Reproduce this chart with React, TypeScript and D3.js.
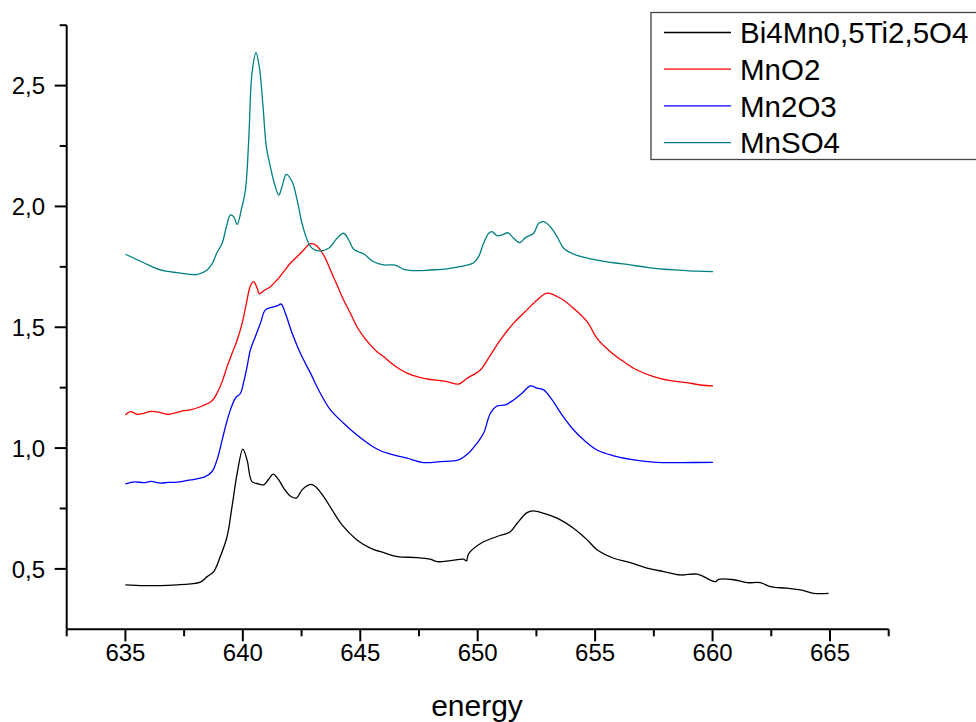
import React from "react";
import * as d3 from "d3";

const seriesNames = ["Bi4Mn0,5Ti2,5O4", "MnO2", "Mn2O3", "MnSO4"];
const seriesColors = ["#000000", "#ff0000", "#0000ff", "#008080"];

const xTicks = [635, 640, 645, 650, 655, 660, 665];
const xMinorTicks = [632.5, 637.5, 642.5, 647.5, 652.5, 657.5, 662.5, 667.5];
const yTicks = [0.5, 1.0, 1.5, 2.0, 2.5];
const yMinorTicks = [0.75, 1.25, 1.75, 2.25, 2.75];
const yTickLabels = ["0,5", "1,0", "1,5", "2,0", "2,5"];

const bi4Energy = [635, 635.78, 636.49, 637.2, 637.77, 638.19, 638.48, 638.76, 639.04, 639.33, 639.54, 639.76, 640.0, 640.18, 640.39, 640.67, 640.89, 641.1, 641.29, 641.53, 641.74, 642.02, 642.28, 642.52, 642.88, 643.09, 643.44, 643.8, 644.22, 644.86, 645.43, 646.0, 646.57, 647.42, 647.98, 648.27, 648.84, 649.4, 649.52, 649.61, 650.19, 650.82, 651.39, 651.68, 652.1, 652.38, 652.81, 653.38, 654.08, 654.66, 655.08, 655.79, 656.5, 657.21, 657.92, 658.63, 659.34, 660.12, 660.26, 660.9, 661.47, 662.03, 662.46, 663.17, 663.74, 664.3, 664.94];
const bi4Value = [0.434, 0.431, 0.431, 0.434, 0.438, 0.445, 0.468, 0.489, 0.551, 0.634, 0.758, 0.896, 0.996, 0.951, 0.861, 0.852, 0.848, 0.871, 0.892, 0.868, 0.834, 0.802, 0.793, 0.827, 0.85, 0.841, 0.799, 0.744, 0.682, 0.62, 0.586, 0.567, 0.551, 0.547, 0.54, 0.53, 0.534, 0.54, 0.533, 0.562, 0.609, 0.634, 0.654, 0.689, 0.733, 0.74, 0.73, 0.71, 0.668, 0.62, 0.579, 0.544, 0.526, 0.503, 0.489, 0.475, 0.478, 0.447, 0.457, 0.455, 0.443, 0.443, 0.427, 0.42, 0.413, 0.399, 0.399];

const mno2Energy = [635, 635.21, 635.5, 635.78, 636.1, 636.49, 636.8, 637.2, 637.5, 637.77, 638.19, 638.69, 638.9, 639.12, 639.33, 639.54, 639.76, 639.97, 640.15, 640.32, 640.46, 640.61, 640.7, 640.89, 641.17, 641.46, 641.74, 642.02, 642.31, 642.59, 642.85, 643.09, 643.3, 643.51, 643.73, 644.01, 644.29, 644.58, 644.86, 645.14, 645.43, 645.71, 646.0, 646.42, 646.99, 647.56, 648.12, 648.69, 649.19, 649.55, 650.11, 650.54, 650.96, 651.53, 652.1, 652.53, 652.95, 653.52, 654.08, 654.66, 655.08, 655.65, 656.21, 656.78, 657.49, 658.2, 658.91, 659.48, 660.02];
const mno2Value = [1.137, 1.151, 1.14, 1.144, 1.152, 1.147, 1.14, 1.148, 1.155, 1.158, 1.171, 1.196, 1.227, 1.275, 1.337, 1.392, 1.447, 1.517, 1.599, 1.671, 1.689, 1.661, 1.638, 1.651, 1.668, 1.696, 1.73, 1.765, 1.792, 1.82, 1.845, 1.841, 1.82, 1.786, 1.737, 1.675, 1.613, 1.558, 1.502, 1.461, 1.427, 1.399, 1.378, 1.344, 1.31, 1.292, 1.282, 1.275, 1.265, 1.289, 1.323, 1.385, 1.447, 1.517, 1.572, 1.613, 1.641, 1.62, 1.579, 1.523, 1.454, 1.399, 1.358, 1.323, 1.296, 1.279, 1.271, 1.261, 1.257];

const mn2o3Energy = [635, 635.4, 635.78, 636.1, 636.49, 636.8, 637.2, 637.77, 638.4, 638.69, 638.9, 639.12, 639.3, 639.47, 639.68, 639.9, 640.04, 640.18, 640.32, 640.53, 640.75, 640.96, 641.25, 641.46, 641.63, 641.81, 642.1, 642.45, 642.88, 643.3, 643.73, 644.29, 644.86, 645.43, 645.86, 646.42, 646.99, 647.7, 648.41, 649.19, 649.61, 649.97, 650.25, 650.54, 650.82, 651.18, 651.53, 651.89, 652.24, 652.53, 652.81, 653.17, 653.59, 654.02, 654.51, 655.08, 655.79, 656.64, 657.63, 658.63, 660.02];
const mn2o3Value = [0.852, 0.86, 0.857, 0.862, 0.855, 0.858, 0.859, 0.868, 0.882, 0.903, 0.951, 1.034, 1.103, 1.158, 1.206, 1.227, 1.275, 1.337, 1.406, 1.461, 1.517, 1.572, 1.583, 1.588, 1.596, 1.558, 1.475, 1.392, 1.31, 1.227, 1.158, 1.103, 1.054, 1.013, 0.989, 0.972, 0.958, 0.94, 0.944, 0.951, 0.979, 1.02, 1.061, 1.144, 1.174, 1.179, 1.199, 1.227, 1.257, 1.248, 1.241, 1.199, 1.137, 1.082, 1.034, 0.992, 0.968, 0.951, 0.941, 0.94, 0.941];

const mnso4Energy = [635, 635.78, 636.49, 637.2, 638.08, 638.48, 638.69, 638.9, 639.12, 639.3, 639.47, 639.61, 639.76, 639.93, 640.11, 640.25, 640.39, 640.56, 640.7, 640.86, 641.0, 641.17, 641.34, 641.53, 641.67, 641.85, 642.1, 642.31, 642.52, 642.74, 642.95, 643.23, 643.65, 644.01, 644.29, 644.51, 644.72, 645.15, 645.57, 646.0, 646.49, 646.85, 647.42, 647.98, 648.69, 649.4, 649.83, 650.04, 650.25, 650.47, 650.61, 650.82, 651.04, 651.29, 651.53, 651.79, 652.03, 652.38, 652.6, 652.81, 653.09, 653.38, 653.66, 654.08, 654.51, 655.08, 655.79, 656.5, 657.21, 657.92, 658.63, 659.34, 660.02];
const mnso4Value = [1.802, 1.767, 1.737, 1.726, 1.719, 1.737, 1.762, 1.809, 1.848, 1.916, 1.965, 1.958, 1.926, 1.985, 2.068, 2.275, 2.551, 2.636, 2.578, 2.413, 2.247, 2.165, 2.096, 2.047, 2.082, 2.133, 2.102, 2.027, 1.93, 1.861, 1.827, 1.816, 1.827, 1.868, 1.889, 1.861, 1.823, 1.803, 1.771, 1.758, 1.757, 1.74, 1.734, 1.737, 1.742, 1.754, 1.767, 1.792, 1.848, 1.889, 1.896, 1.879, 1.882, 1.891, 1.868, 1.85, 1.871, 1.889, 1.93, 1.937, 1.916, 1.875, 1.827, 1.803, 1.79, 1.778, 1.767, 1.758, 1.748, 1.74, 1.736, 1.732, 1.73];

const energies = [bi4Energy, mno2Energy, mn2o3Energy, mnso4Energy];
const values = [bi4Value, mno2Value, mn2o3Value, mnso4Value];

export default function App() {
  const W = 976;
  const H = 722;
  const x = d3.scaleLinear().domain([632.5, 667.5]).range([66.7, 888.7]);
  const y = d3.scaleLinear().domain([0.25, 2.75]).range([629.3, 25.2]);
  const line = d3
    .line<[number, number]>()
    .x((d) => x(d[0]))
    .y((d) => y(d[1]))
    .curve(d3.curveCatmullRom.alpha(0.5));

  const font = "'Liberation Sans', Arial, sans-serif";
  const x0 = x(632.5);
  const yBase = y(0.25);

  return (
    <svg
      width={W}
      height={H}
      style={{ position: "absolute", left: 0, top: 0, background: "#fff" }}
    >
      <rect x={0} y={0} width={W} height={H} fill="#fff" />
      {energies.map((es, i) => (
        <path
          key={seriesNames[i]}
          d={line(es.map((e, j) => [e, values[i][j]] as [number, number])) || ""}
          fill="none"
          stroke={seriesColors[i]}
          strokeWidth={1.3}
        />
      ))}
      {/* axes */}
      <line x1={x0} x2={x(667.5)} y1={yBase} y2={yBase} stroke="#000" strokeWidth={2} />
      <line x1={x0} x2={x0} y1={y(2.75)} y2={yBase} stroke="#000" strokeWidth={2} />
      {xTicks.map((t) => (
        <g key={"xt" + t}>
          <line x1={x(t)} x2={x(t)} y1={yBase} y2={yBase + 12} stroke="#000" strokeWidth={2} />
          <text x={x(t)} y={661} textAnchor="middle" fontFamily={font} fontSize={24} fill="#000">
            {t}
          </text>
        </g>
      ))}
      {xMinorTicks.map((t) => (
        <line key={"xm" + t} x1={x(t)} x2={x(t)} y1={yBase} y2={yBase + 7} stroke="#000" strokeWidth={2} />
      ))}
      {yTicks.map((t, i) => (
        <g key={"yt" + t}>
          <line x1={x0 - 12} x2={x0} y1={y(t)} y2={y(t)} stroke="#000" strokeWidth={2} />
          <text
            x={45}
            y={y(t)}
            dy="0.36em"
            textAnchor="end"
            fontFamily={font}
            fontSize={24}
            fill="#000"
          >
            {yTickLabels[i]}
          </text>
        </g>
      ))}
      {yMinorTicks.map((t) => (
        <line key={"ym" + t} x1={x0 - 7} x2={x0} y1={y(t)} y2={y(t)} stroke="#000" strokeWidth={2} />
      ))}
      <text x={477} y={716} textAnchor="middle" fontFamily={font} fontSize={30} fill="#000">
        energy
      </text>
      {/* legend */}
      <rect x={651} y={12.5} width={340} height={147} fill="#fff" stroke="#444" strokeWidth={1.3} />
      {seriesNames.map((n, i) => {
        const ly = 32.5 + i * 36.7;
        return (
          <g key={"lg" + n}>
            <line x1={664} x2={731} y1={ly} y2={ly} stroke={seriesColors[i]} strokeWidth={1.3} />
            <text x={740} y={ly} dy="0.36em" fontFamily={font} fontSize={29.5} fill="#000">
              {n}
            </text>
          </g>
        );
      })}
    </svg>
  );
}
